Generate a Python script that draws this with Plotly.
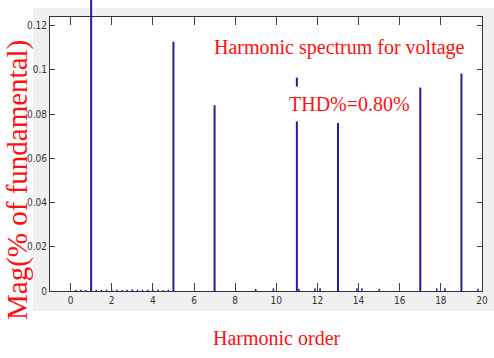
import plotly.graph_objects as go

# ---- data ----
fundamental_order = [1]
fundamental_mag = [1.0]          # off-scale, clipped at the top

harmonic_order = [5, 7, 11, 13, 17, 19]
harmonic_mag = [0.1127, 0.0840, 0.0965, 0.0760, 0.0920, 0.0983]

small_order = [0.25, 0.5, 0.75, 1.25, 1.5, 1.75, 2.0, 2.25, 2.5, 2.75, 3.0, 3.25, 3.5,
               3.75, 4.0, 4.25, 4.5, 4.75, 9.0, 9.86, 11.1, 11.88, 12.13, 13.92, 14.16,
               15.0, 17.8, 18.2, 19.8]
small_mag = [0.0005, 0.0006, 0.0005, 0.0006, 0.0005, 0.0006, 0.0007, 0.0006, 0.0005, 0.0006,
             0.0007, 0.0006, 0.0005, 0.0006, 0.0007, 0.0006, 0.0005, 0.0006, 0.0009, 0.0012,
             0.0010, 0.0012, 0.0012, 0.0012, 0.0012, 0.0010, 0.0012, 0.0012, 0.0010]

x_ticks = [0, 2, 4, 6, 8, 10, 12, 14, 16, 18, 20]
y_ticks = [0, 0.02, 0.04, 0.06, 0.08, 0.1, 0.12]
y_tick_text = ["0", "0.02", "0.04", "0.06", "0.08", "0.1", "0.12"]

X_RANGE = [-1, 20]
Y_TOP = 0.1239

# layout geometry (pixels)
W, H = 494, 358
ML, MR, MT, MB = 50, 12, 0, 67
PW, PH = W - ML - MR, H - MT - MB
AX_TOP = 17
main_dom_top = (PH - AX_TOP) / PH

BLUE = "#1f1f9c"
RED = "#ff1010"
SERIF = "'Liberation Serif', 'DejaVu Serif', serif"
TICKFONT = dict(family="'Liberation Sans Narrow', 'DejaVu Sans Condensed', sans-serif",
                size=10, color="#333333")


def stems(xs, ys):
    sx, sy = [], []
    for x, y in zip(xs, ys):
        sx += [x, x, None]
        sy += [0, y, None]
    return sx, sy


fig = go.Figure()

sx, sy = stems(small_order, small_mag)
fig.add_trace(go.Scatter(x=sx, y=sy, mode="lines", line=dict(color=BLUE, width=1.5),
                         hoverinfo="skip", showlegend=False))
sx, sy = stems(harmonic_order, harmonic_mag)
fig.add_trace(go.Scatter(x=sx, y=sy, mode="lines", line=dict(color=BLUE, width=2),
                         showlegend=False))
sx, sy = stems(fundamental_order, fundamental_mag)
fig.add_trace(go.Scatter(x=sx, y=sy, mode="lines", line=dict(color=BLUE, width=2),
                         showlegend=False, xaxis="x2", yaxis="y2"))

axis_common = dict(showline=True, linecolor="#333333", linewidth=1, mirror="ticks",
                   ticks="inside", tickcolor="#444444", showgrid=False, zeroline=False,
                   tickfont=TICKFONT)

fig.update_layout(
    width=W, height=H,
    margin=dict(l=ML, r=MR, t=MT, b=MB, pad=0),
    paper_bgcolor="white", plot_bgcolor="rgba(0,0,0,0)",
    xaxis=dict(range=X_RANGE, tickvals=x_ticks, ticklen=8, domain=[0, 1],
               anchor="y", **axis_common),
    yaxis=dict(range=[0, Y_TOP], tickvals=y_ticks, ticktext=y_tick_text, ticklen=5,
               domain=[0, main_dom_top], anchor="x", **axis_common),
    xaxis2=dict(range=X_RANGE, visible=False, domain=[0, 1], anchor="y2"),
    yaxis2=dict(range=[0, Y_TOP / main_dom_top], visible=False, domain=[0, 1], anchor="x2"),
    shapes=[
        dict(type="rect", xref="paper", yref="paper", layer="below",
             x0=(33 - ML) / PW, x1=(494 - ML) / PW, y0=(PH - 311) / PH, y1=(PH - 8) / PH,
             fillcolor="#f0f0f0", line=dict(width=0)),
        dict(type="rect", xref="paper", yref="paper", layer="below",
             x0=0, x1=1, y0=0, y1=main_dom_top,
             fillcolor="white", line=dict(width=0)),
    ],
    annotations=[
        dict(text="Harmonic spectrum for voltage", xref="paper", yref="paper",
             x=(339.5 - ML) / PW, y=(PH - 48) / PH, xanchor="center", yanchor="middle",
             showarrow=False, font=dict(family=SERIF, size=20, color=RED)),
        dict(text="THD%=0.80%", xref="paper", yref="paper",
             x=(349 - ML) / PW, y=(PH - 104) / PH, xanchor="center", yanchor="middle",
             showarrow=False, bgcolor="white", borderpad=6,
             font=dict(family=SERIF, size=20, color=RED)),
        dict(text="Harmonic order", xref="paper", yref="paper",
             x=(277 - ML) / PW, y=(PH - 338) / PH, xanchor="center", yanchor="middle",
             showarrow=False, font=dict(family=SERIF, size=20, color=RED)),
        dict(text="Mag(% of fundamental)", xref="paper", yref="paper", textangle=-90,
             x=(17 - ML) / PW, y=(PH - 180) / PH, xanchor="center", yanchor="middle",
             showarrow=False, font=dict(family=SERIF, size=29, color=RED)),
    ],
)

fig.write_html("out.html")
